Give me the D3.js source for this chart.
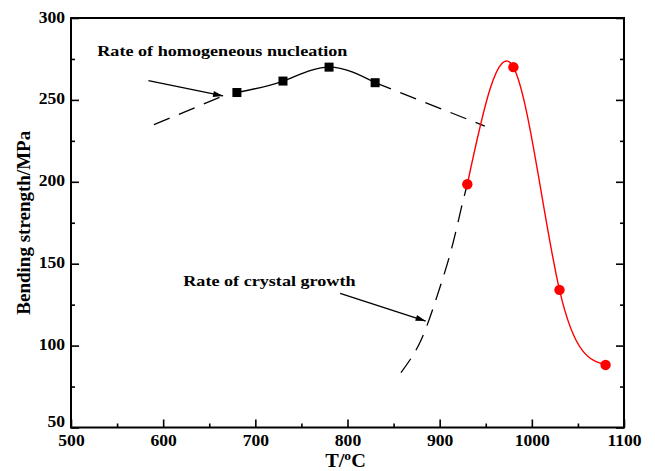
<!DOCTYPE html>
<html>
<head>
<meta charset="utf-8">
<script src="https://cdn.jsdelivr.net/npm/d3@7"></script>
<style>
  body { margin: 0; background: #fff; }
  svg { display: block; }
  text { font-family: "Liberation Serif", "Times New Roman", serif; font-weight: bold; fill: #000; }
</style>
</head>
<body>
<svg id="chart" width="655" height="471"></svg>
<script>
// Bending strength of the glass-ceramic vs. heat-treatment temperature
const xTickValues = [500, 600, 700, 800, 900, 1000, 1100];
const xMinorValues = [550, 650, 750, 850, 950, 1050];
const yTickValues = [50, 100, 150, 200, 250, 300];
const yMinorValues = [75, 125, 175, 225, 275];

// Measured points: nucleation stage (squares) and crystal-growth stage (circles)
const nucleationT = [680, 730, 780, 830];
const nucleationStrength = [254.5, 261.5, 270, 260.5];
const growthT = [930, 980, 1030, 1080];
const growthStrength = [198.5, 270, 134, 88.2];

// Dashed extrapolated trends, [T, strength]
const nucleationLeftTrend = [[590, 234.9], [665, 252.4]];
const nucleationRightTrend = [[830, 260.5], [949, 234]];
const growthTrend = [[858, 83.5], [879, 102.4], [897, 129.9], [912, 157.3], [923, 182.8], [930, 198.5]];

// Annotation arrows, [from, to] in data units
const nucleationArrow = [[584, 261.7], [665, 252.4]];
const growthArrow = [[792, 131.9], [884.8, 115]];

const svg = d3.select("#chart");
const W = 655, H = 471;
const plotLeft = 71, plotRight = 624, plotTop = 18, plotBottom = 427.5;

svg.append("rect").attr("width", W).attr("height", H).attr("fill", "#fff");

const x = d3.scaleLinear().domain([500, 1100]).range([plotLeft, plotRight]);
const y = d3.scaleLinear().domain([50, 300]).range([plotBottom, plotTop]);

// Widen glyphs horizontally about their anchor point
function widen(sel, s) {
  sel.each(function () {
    const t = d3.select(this);
    const x0 = +t.attr("x") || 0;
    t.attr("x", x0 / s).attr("transform", `scale(${s},1)`);
  });
}

// Axes: ticks point inward
const gx = svg.append("g").attr("transform", `translate(0,${plotBottom})`)
  .call(d3.axisBottom(x).tickValues(xTickValues).tickSizeInner(-8).tickSizeOuter(0).tickPadding(7).tickFormat(d3.format("d")));
svg.append("g").attr("transform", `translate(0,${plotBottom})`)
  .call(d3.axisBottom(x).tickValues(xMinorValues).tickSizeInner(-4).tickSizeOuter(0).tickFormat(""));

const gy = svg.append("g").attr("transform", `translate(${plotLeft},0)`)
  .call(d3.axisLeft(y).tickValues(yTickValues).tickSizeInner(-8).tickSizeOuter(0).tickPadding(6).tickFormat(d3.format("d")));
svg.append("g").attr("transform", `translate(${plotLeft},0)`)
  .call(d3.axisLeft(y).tickValues(yMinorValues).tickSizeInner(-4).tickSizeOuter(0).tickFormat(""));

svg.append("g").attr("transform", `translate(${plotRight},0)`)
  .call(d3.axisRight(y).tickValues(yTickValues).tickSizeInner(-8).tickSizeOuter(0).tickFormat(""));
svg.append("g").attr("transform", `translate(${plotRight},0)`)
  .call(d3.axisRight(y).tickValues(yMinorValues).tickSizeInner(-4).tickSizeOuter(0).tickFormat(""));

svg.selectAll(".domain").remove();
svg.selectAll(".tick line").attr("stroke", "#000").attr("stroke-width", 1.6);
svg.selectAll(".tick text").style("font-size", "16px").attr("fill", "#000");
gy.selectAll(".tick text").attr("dy", "0.25em");
// lift the lowest y label clear of the x labels
gy.selectAll(".tick text").filter(d => d === 50).attr("dy", "-0.05em");
widen(gx.selectAll(".tick text"), 1.1);
widen(gy.selectAll(".tick text"), 1.1);

// Plot frame
svg.append("rect")
  .attr("x", plotLeft).attr("y", plotTop)
  .attr("width", plotRight - plotLeft).attr("height", plotBottom - plotTop)
  .attr("fill", "none").attr("stroke", "#000").attr("stroke-width", 2);

// Axis titles
const xTitle = svg.append("text")
  .attr("x", (plotLeft + plotRight) / 2 - 2).attr("y", 467)
  .attr("text-anchor", "middle").style("font-size", "18px")
  .call(t => {
    t.append("tspan").text("T/");
    t.append("tspan").text("o").attr("baseline-shift", "super").style("font-size", "12px");
    t.append("tspan").text("C");
  });
widen(xTitle, 1.13);

svg.append("text")
  .attr("transform", `translate(30,${(plotTop + plotBottom) / 2}) rotate(-90)`)
  .attr("text-anchor", "middle").style("font-size", "19px")
  .text("Bending strength/MPa");

// Arrow head marker
svg.append("defs").append("marker")
  .attr("id", "arrow").attr("viewBox", "0 0 10 6")
  .attr("refX", 10).attr("refY", 3)
  .attr("markerWidth", 12).attr("markerHeight", 6)
  .attr("markerUnits", "userSpaceOnUse")
  .attr("orient", "auto")
  .append("path").attr("d", "M0,0 L10,3 L0,6 Z").attr("fill", "#000");

const line = d3.line().x(d => x(d[0])).y(d => y(d[1]));
const curve = d3.line().x(d => x(d[0])).y(d => y(d[1])).curve(d3.curveNatural);

// Dashed trends
[nucleationLeftTrend, nucleationRightTrend].forEach(pts => {
  svg.append("path").attr("d", line(pts))
    .attr("fill", "none").attr("stroke", "#000").attr("stroke-width", 1.3)
    .attr("stroke-dasharray", "17,10");
});
svg.append("path").attr("d", curve(growthTrend))
  .attr("fill", "none").attr("stroke", "#000").attr("stroke-width", 1.3)
  .attr("stroke-dasharray", "17,10");

// Arrows
[nucleationArrow, growthArrow].forEach(pts => {
  svg.append("path").attr("d", line(pts))
    .attr("fill", "none").attr("stroke", "#000").attr("stroke-width", 1.3)
    .attr("marker-end", "url(#arrow)");
});

// Fitted curves through measured points
const nucleationPts = nucleationT.map((t, i) => [t, nucleationStrength[i]]);
const growthPts = growthT.map((t, i) => [t, growthStrength[i]]);

svg.append("path").attr("d", curve(nucleationPts))
  .attr("fill", "none").attr("stroke", "#000").attr("stroke-width", 1.4);
svg.append("path").attr("d", curve(growthPts))
  .attr("fill", "none").attr("stroke", "#ff0000").attr("stroke-width", 1.4);

// Markers
const sq = 9;
svg.append("g").selectAll("rect").data(nucleationPts).join("rect")
  .attr("x", d => x(d[0]) - sq / 2).attr("y", d => y(d[1]) - sq / 2)
  .attr("width", sq).attr("height", sq).attr("fill", "#000");
svg.append("g").selectAll("circle").data(growthPts).join("circle")
  .attr("cx", d => x(d[0])).attr("cy", d => y(d[1])).attr("r", 5.2)
  .attr("fill", "#ff0000");

// Annotations
const ann1 = svg.append("text").attr("x", x(528.5)).attr("y", y(276.8))
  .style("font-size", "15px").text("Rate of homogeneous nucleation");
const ann2 = svg.append("text").attr("x", x(621.8)).attr("y", y(136.4))
  .style("font-size", "15px").text("Rate of crystal growth");
widen(ann1, 1.21);
widen(ann2, 1.21);
</script>
</body>
</html>
